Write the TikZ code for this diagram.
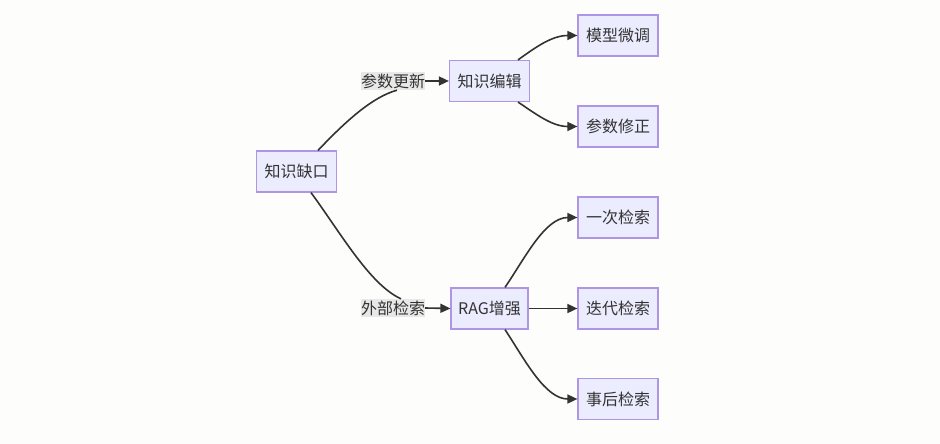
\documentclass[tikz,border=0pt]{standalone}
\usepackage{fontspec}
\setmainfont{Noto Sans CJK SC}
\usetikzlibrary{arrows.meta}
\definecolor{bgc}{HTML}{FDFDFB}
\definecolor{boxfill}{HTML}{ECECFF}
\definecolor{boxline}{HTML}{AE95E6}
\definecolor{txt}{HTML}{333333}
\definecolor{lblbg}{HTML}{E8E8E8}
\tikzset{
  box/.style={draw=boxline, line width=1.2pt, fill=boxfill, text=txt, font=\fontsize{16pt}{18pt}\selectfont, minimum width=80pt, minimum height=41pt, inner sep=0pt},
  lbl/.style={fill=lblbg, text=txt, font=\fontsize{16pt}{18pt}\selectfont, inner sep=0pt, minimum height=18pt},
  edge/.style={draw=txt, line width=1.6pt},
  arr/.style={edge, -{Triangle[length=10pt,width=9pt]}}
}
\begin{document}
\begin{tikzpicture}[x=1pt,y=-1pt]
\fill[bgc] (0,0) rectangle (940,444);
\useasboundingbox (0,0) rectangle (940,444);
\node[box] (kq) at (296.5,171.5) {知识缺口};
\node[box] (kb) at (489.5,81) {知识编辑};
\node[box, minimum width=77pt] (rag) at (489.5,308.5) {RAG增强};
\node[box] (mx) at (618,35.5) {模型微调};
\node[box] (cs) at (618,126.5) {参数修正};
\node[box] (yc) at (618,217.5) {一次检索};
\node[box] (dd) at (618,308.5) {迭代检索};
\node[box] (sh) at (618,399) {事后检索};
\node[lbl] (l1) at (393,81) {参数更新};
\node[lbl] (l2) at (393,308) {外部检索};
% edges
\draw[edge] ([xshift=21.5pt]kq.north) .. controls (345,122) and (372,97) .. ([xshift=4pt]l1.south);
\draw[arr] (l1.east) -- (kb.west);
\draw[edge] ([xshift=14.5pt]kq.south) .. controls (340,232) and (370,285) .. ([xshift=8pt]l2.north);
\draw[arr] (l2.east) -- (rag.west);
\draw[arr] ([xshift=28.5pt]kb.north) .. controls (536,47) and (552,35.5) .. (mx.west);
\draw[arr] ([xshift=28.5pt]kb.south) .. controls (536,114) and (552,126.5) .. (cs.west);
\draw[arr] ([xshift=15.5pt]rag.north) .. controls (525,258) and (545,217.5) .. (yc.west);
\draw[arr] (rag.east) -- (dd.west);
\draw[arr] ([xshift=15.5pt]rag.south) .. controls (525,360) and (545,399) .. (sh.west);
\end{tikzpicture}
\end{document}
